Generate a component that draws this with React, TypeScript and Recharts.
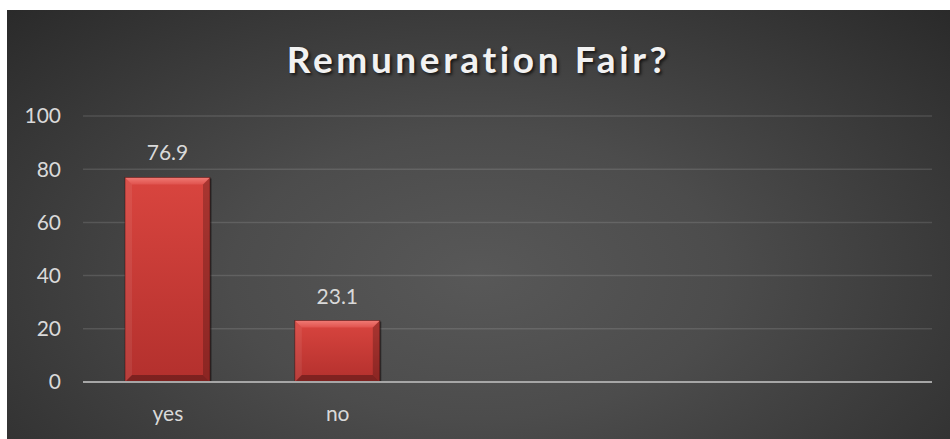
import React from 'react';
import { BarChart, Bar, XAxis, YAxis, CartesianGrid, LabelList } from 'recharts';

const title = 'Remuneration Fair?';
const categories = ['yes', 'no', '', '', ''];
const values: (number | null)[] = [76.9, 23.1, null, null, null];
const yTicks = [0, 20, 40, 60, 80, 100];

const data = categories.map((c, i) => ({ name: c, value: values[i] }));

const FONT = 'Lato, "Open Sans", sans-serif';

const BevelBar = (props: any) => {
  const { x, y, width: w, height: h, index } = props;
  if (!h || h <= 0 || !w) return null;
  const b = Math.min(7, h / 2, w / 2);
  const gid = `barGrad${index}`;
  const tid = `barTop${index}`;
  return (
    <g>
      <defs>
        <linearGradient id={gid} x1="0" y1="0" x2="0" y2="1">
          <stop offset="0%" stopColor="#d9453f" />
          <stop offset="100%" stopColor="#b3302d" />
        </linearGradient>
        <linearGradient id={tid} x1="0" y1="0" x2="0" y2="1">
          <stop offset="0%" stopColor="#f07a74" />
          <stop offset="100%" stopColor="#e0534e" />
        </linearGradient>
      </defs>
      <rect x={x + 1.5} y={y + 1} width={w} height={h} fill="rgba(0,0,0,0.45)" />
      <rect x={x} y={y} width={w} height={h} fill={`url(#${gid})`} />
      <polygon
        points={`${x},${y} ${x + w},${y} ${x + w - b},${y + b} ${x + b},${y + b}`}
        fill={`url(#${tid})`}
      />
      <polygon
        points={`${x},${y} ${x + b},${y + b} ${x + b},${y + h - b} ${x},${y + h}`}
        fill="rgba(255,255,255,0.07)"
      />
      <polygon
        points={`${x + w},${y} ${x + w},${y + h} ${x + w - b},${y + h - b} ${x + w - b},${y + b}`}
        fill="rgba(0,0,0,0.22)"
      />
      <polygon
        points={`${x},${y + h} ${x + b},${y + h - b} ${x + w - b},${y + h - b} ${x + w},${y + h}`}
        fill="rgba(0,0,0,0.3)"
      />
      <rect x={x} y={y} width={w} height={h} fill="none" stroke="rgba(60,10,10,0.6)" strokeWidth={0.8} />
    </g>
  );
};

export default function App() {
  return (
    <div style={{ position: 'absolute', left: 0, top: 0, width: 950, height: 439, background: '#ffffff', overflow: 'hidden' }}>
      <div
        style={{
          position: 'absolute',
          left: 7,
          top: 10,
          width: 943,
          height: 429,
          background: 'radial-gradient(ellipse 75% 95% at 50% 62%, #585858 0%, #4c4c4c 35%, #262626 100%)',
        }}
      />
      <div
        style={{
          position: 'absolute',
          left: 7,
          top: 34,
          width: 943,
          textAlign: 'center',
          fontFamily: FONT,
          fontWeight: 700,
          fontSize: 37,
          letterSpacing: 3.6,
          color: '#f2f2f2',
          textShadow: '2px 2px 3px rgba(0,0,0,0.65)',
          lineHeight: '50px',
        }}
      >
        {title}
      </div>
      <div style={{ position: 'absolute', left: 0, top: 0 }}>
        <BarChart
          width={950}
          height={439}
          data={data}
          margin={{ top: 116, right: 18, left: 0, bottom: 0 }}
          barSize={85}
        >
          <CartesianGrid vertical={false} stroke="rgba(255,255,255,0.12)" strokeWidth={1.5} />
          <XAxis
            dataKey="name"
            height={57}
            axisLine={{ stroke: '#a6a6a6', strokeWidth: 2.2 }}
            tickLine={false}
            tickSize={0}
            tickMargin={24}
            interval={0}
            tick={{ fill: '#d9d9d9', fontSize: 21, fontFamily: FONT }}
          />
          <YAxis
            width={83}
            domain={[0, 100]}
            ticks={yTicks}
            axisLine={false}
            tickLine={false}
            tickSize={0}
            tickMargin={22}
            tick={{ fill: '#d9d9d9', fontSize: 21, fontFamily: FONT }}
          />
          <Bar dataKey="value" shape={BevelBar} isAnimationActive={false}>
            <LabelList
              dataKey="value"
              position="top"
              offset={17}
              fill="#d9d9d9"
              fontSize={21}
              fontFamily={FONT}
              formatter={(v: any) => (v == null ? '' : Number(v).toFixed(1))}
            />
          </Bar>
        </BarChart>
      </div>
    </div>
  );
}
